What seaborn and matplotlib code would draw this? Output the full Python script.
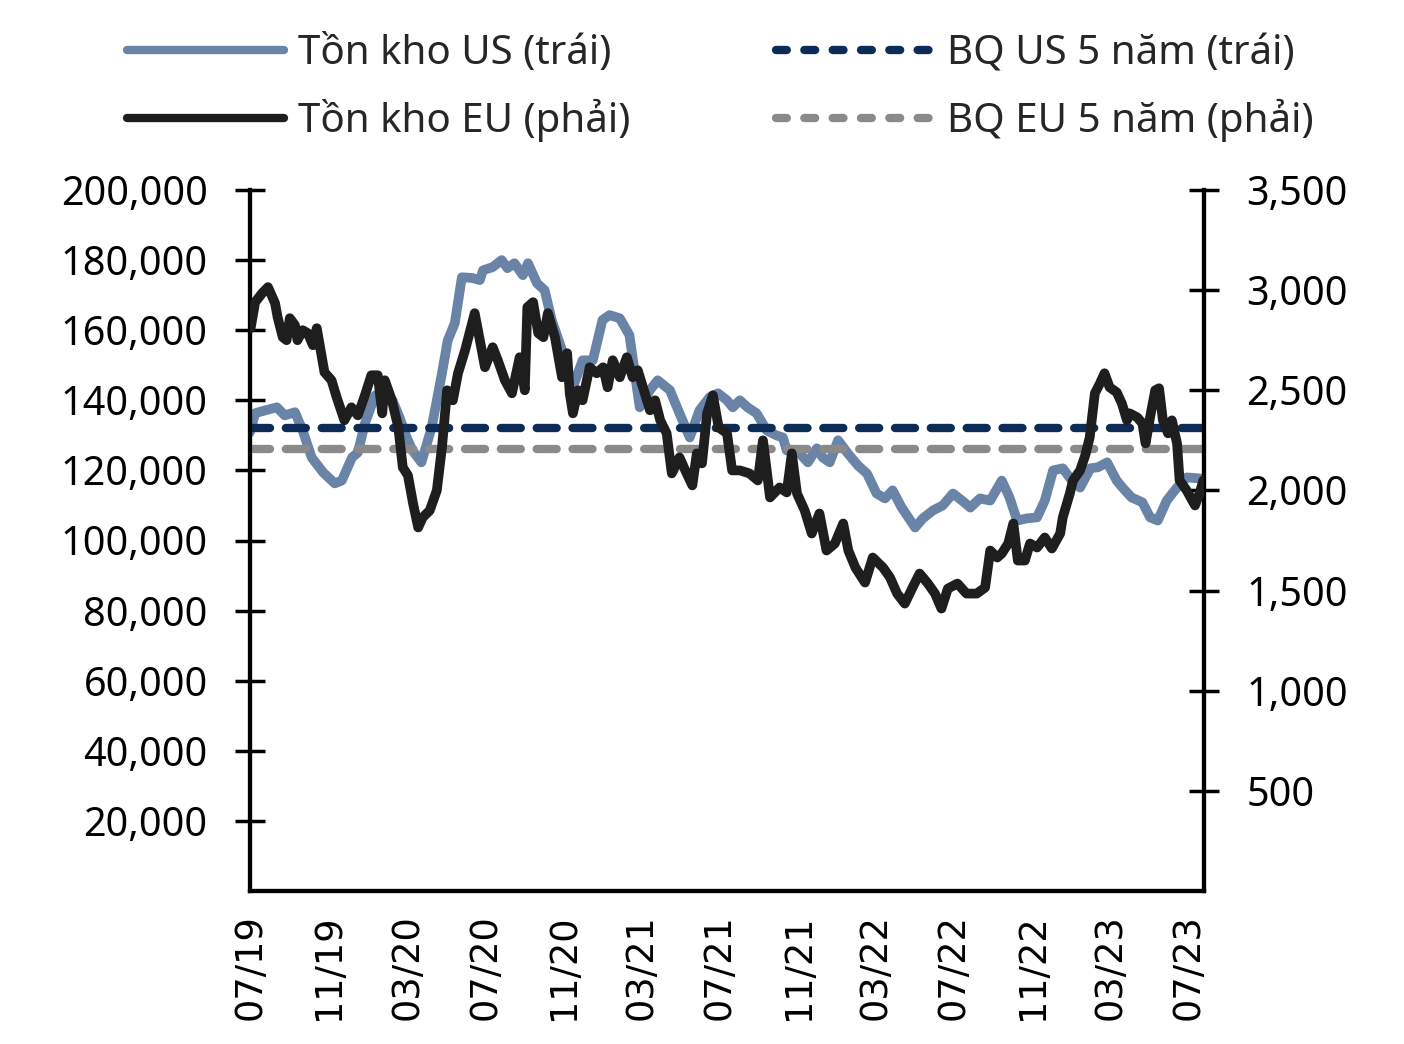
import numpy as np
import pandas as pd
import matplotlib
matplotlib.use("Agg")
import matplotlib.pyplot as plt
import matplotlib.dates as mdates
from matplotlib.ticker import FuncFormatter
from matplotlib.lines import Line2D
import seaborn as sns

# US inventory (left axis)
us_dates = ['2019-07-01', '2019-07-09', '2019-07-24', '2019-08-12', '2019-08-24', '2019-09-09',
            '2019-09-21', '2019-10-05', '2019-10-23', '2019-11-10', '2019-11-21', '2019-12-07',
            '2019-12-16', '2019-12-27', '2020-01-12', '2020-01-30', '2020-02-08', '2020-02-19',
            '2020-03-01', '2020-03-10', '2020-03-24', '2020-04-09', '2020-04-25', '2020-05-04',
            '2020-05-15', '2020-05-26', '2020-06-11', '2020-06-23', '2020-06-28', '2020-07-13',
            '2020-07-27', '2020-08-05', '2020-08-16', '2020-08-29', '2020-09-06', '2020-09-20',
            '2020-10-02', '2020-10-13', '2020-10-29', '2020-11-15', '2020-11-30', '2020-12-16',
            '2020-12-31', '2021-01-11', '2021-01-27', '2021-02-11', '2021-02-27', '2021-03-15',
            '2021-03-27', '2021-04-15', '2021-04-30', '2021-05-16', '2021-05-31', '2021-06-16',
            '2021-06-29', '2021-07-13', '2021-07-22', '2021-08-02', '2021-08-14', '2021-08-28',
            '2021-09-13', '2021-09-28', '2021-10-08', '2021-10-14', '2021-11-03', '2021-11-16',
            '2021-11-30', '2021-12-09', '2021-12-20', '2022-01-02', '2022-01-17', '2022-02-02',
            '2022-02-16', '2022-03-03', '2022-03-16', '2022-03-28', '2022-04-11', '2022-05-02',
            '2022-05-14', '2022-05-30', '2022-06-14', '2022-06-30', '2022-07-14', '2022-07-27',
            '2022-08-11', '2022-08-27', '2022-09-14', '2022-09-26', '2022-10-08', '2022-10-23',
            '2022-11-08', '2022-11-20', '2022-12-03', '2022-12-18', '2023-01-01', '2023-01-14',
            '2023-01-30', '2023-02-11', '2023-02-25', '2023-03-12', '2023-03-21', '2023-04-04',
            '2023-04-21', '2023-05-03', '2023-05-15', '2023-05-29', '2023-06-13', '2023-06-29',
            '2023-07-20', '2023-07-25']
us_values = [130900, 136300, 137100, 138000, 135700, 136600, 131400, 123700, 119400, 116300,
             117100, 123700, 125100, 133400, 141400, 140900, 140000, 135100, 129400, 125700,
             122300, 132300, 147700, 157100, 162000, 175100, 174900, 174300, 177100, 178000,
             180000, 177700, 179100, 175700, 179100, 173400, 171400, 162900, 154300, 143700,
             151400, 151400, 162900, 164300, 163400, 158600, 138000, 142900, 145700, 142900,
             136300, 129400, 137100, 140900, 142000, 140000, 138000, 140000, 138000, 136300,
             131400, 130000, 129400, 125700, 124900, 122300, 126300, 123700, 122300, 128600,
             124900, 121400, 119100, 113400, 112000, 114300, 109400, 103700, 106300, 108600,
             110000, 113400, 111400, 109400, 112000, 111400, 117100, 112300, 105700, 106300,
             106600, 111400, 120000, 120600, 117100, 115100, 120600, 120900, 122300, 117100,
             115100, 112300, 110900, 106600, 105700, 111400, 114900, 118000, 117700, 116600]

# EU inventory (right axis)
eu_dates = ['2019-07-02', '2019-07-09', '2019-07-20', '2019-07-29', '2019-08-09', '2019-08-13',
            '2019-08-21', '2019-08-27', '2019-09-01', '2019-09-09', '2019-09-13', '2019-09-21',
            '2019-09-29', '2019-10-07', '2019-10-13', '2019-10-21', '2019-10-25', '2019-11-05',
            '2019-11-13', '2019-11-25', '2019-12-06', '2019-12-16', '2019-12-26', '2020-01-06',
            '2020-01-16', '2020-01-23', '2020-01-27', '2020-02-07', '2020-02-17', '2020-02-24',
            '2020-03-03', '2020-03-11', '2020-03-19', '2020-03-26', '2020-04-06', '2020-04-17',
            '2020-04-25', '2020-05-03', '2020-05-12', '2020-05-20', '2020-05-31', '2020-06-11',
            '2020-06-15', '2020-06-23', '2020-07-01', '2020-07-13', '2020-07-21', '2020-08-01',
            '2020-08-12', '2020-08-24', '2020-09-01', '2020-09-05', '2020-09-14', '2020-09-22',
            '2020-09-30', '2020-10-07', '2020-10-18', '2020-10-29', '2020-11-06', '2020-11-10',
            '2020-11-15', '2020-11-23', '2020-11-30', '2020-12-11', '2020-12-22', '2021-01-01',
            '2021-01-08', '2021-01-16', '2021-01-27', '2021-02-07', '2021-02-16', '2021-02-24',
            '2021-03-07', '2021-03-15', '2021-03-23', '2021-03-31', '2021-04-10', '2021-04-18',
            '2021-04-30', '2021-05-09', '2021-05-20', '2021-05-27', '2021-06-04', '2021-06-12',
            '2021-06-21', '2021-06-30', '2021-07-13', '2021-07-21', '2021-08-02', '2021-08-17',
            '2021-08-30', '2021-09-07', '2021-09-18', '2021-10-03', '2021-10-14', '2021-10-22',
            '2021-10-30', '2021-11-11', '2021-11-22', '2021-12-04', '2021-12-15', '2021-12-28',
            '2022-01-10', '2022-01-18', '2022-01-29', '2022-02-13', '2022-02-25', '2022-03-13',
            '2022-03-24', '2022-04-04', '2022-04-16', '2022-04-28', '2022-05-09', '2022-05-22',
            '2022-06-02', '2022-06-12', '2022-06-22', '2022-07-07', '2022-07-21', '2022-08-06',
            '2022-08-19', '2022-08-27', '2022-09-07', '2022-09-14', '2022-09-24', '2022-10-02',
            '2022-10-09', '2022-10-20', '2022-10-28', '2022-11-08', '2022-11-20', '2022-12-01',
            '2022-12-14', '2022-12-18', '2022-12-29', '2023-01-03', '2023-01-14', '2023-01-22',
            '2023-01-29', '2023-02-06', '2023-02-14', '2023-02-21', '2023-03-01', '2023-03-12',
            '2023-03-20', '2023-03-28', '2023-04-01', '2023-04-13', '2023-04-21', '2023-04-26',
            '2023-05-03', '2023-05-11', '2023-05-17', '2023-05-23', '2023-05-31', '2023-06-06',
            '2023-06-14', '2023-06-18', '2023-06-29', '2023-07-12', '2023-07-19', '2023-07-25']
eu_values = [2810, 2940, 2985, 3015, 2935, 2865, 2765, 2750, 2860, 2825, 2750, 2800, 2785, 2725,
             2810, 2665, 2590, 2550, 2465, 2350, 2415, 2375, 2465, 2575, 2575, 2385, 2550, 2450,
             2315, 2115, 2075, 1935, 1815, 1865, 1900, 2000, 2215, 2500, 2450, 2585, 2700, 2835,
             2885, 2750, 2615, 2715, 2650, 2550, 2485, 2665, 2500, 2915, 2940, 2785, 2765, 2885,
             2765, 2565, 2685, 2485, 2385, 2500, 2450, 2615, 2585, 2615, 2515, 2650, 2565, 2665,
             2565, 2600, 2485, 2400, 2450, 2350, 2285, 2085, 2165, 2100, 2025, 2185, 2135, 2385,
             2475, 2315, 2285, 2100, 2100, 2085, 2050, 2250, 1965, 2015, 1990, 2185, 1985, 1900,
             1785, 1885, 1700, 1735, 1835, 1700, 1615, 1540, 1665, 1615, 1565, 1485, 1435, 1515,
             1585, 1535, 1485, 1410, 1510, 1535, 1485, 1485, 1515, 1700, 1665, 1685, 1735, 1835,
             1650, 1650, 1735, 1715, 1765, 1710, 1785, 1865, 1985, 2050, 2100, 2175, 2265, 2485,
             2535, 2585, 2515, 2490, 2435, 2350, 2385, 2365, 2335, 2235, 2365, 2500, 2510, 2350,
             2285, 2350, 2235, 2050, 2000, 1925, 1985, 2050]

us_avg = 132000   # BQ US 5 năm
eu_avg = 2205     # BQ EU 5 năm

labels = ['Tồn kho US (trái)', 'Tồn kho EU (phải)', 'BQ US 5 năm (trái)', 'BQ EU 5 năm (phải)']
c_us, c_eu, c_us_avg, c_eu_avg = '#6A84A8', '#1E1E1E', '#0C2C57', '#8A8A8A'

sns.set_style("white")
plt.rcParams['font.family'] = ['Noto Sans', 'DejaVu Sans']

lw = 6.0       # legend / dashed
lw_data = 7.0  # series lines
plt.rcParams['lines.linewidth'] = lw_data

fig = plt.figure(figsize=(14.04, 10.44), dpi=100)
ax = fig.add_axes([250 / 1404, 1 - 891 / 1044, (1204 - 250) / 1404, (891 - 190) / 1044])
ax2 = ax.twinx()

sns.lineplot(x=pd.to_datetime(us_dates), y=us_values, ax=ax, color=c_us, linewidth=lw_data,
             solid_joinstyle='round', zorder=2)
ax.axhline(us_avg, color=c_us_avg, linewidth=lw, dashes=(2.4, 1.9), dash_capstyle='round', zorder=3)
sns.lineplot(x=pd.to_datetime(eu_dates), y=eu_values, ax=ax2, color=c_eu, linewidth=lw_data,
             solid_joinstyle='round', zorder=3)
ax2.axhline(eu_avg, color=c_eu_avg, linewidth=lw, dashes=(2.4, 1.9), dash_capstyle='round', zorder=2)

ax.set_xlim(pd.Timestamp('2019-07-01'), pd.Timestamp('2023-07-26'))
ax.set_ylim(0, 200000)
ax2.set_ylim(0, 3500)
ax.set_yticks(np.arange(20000, 200001, 20000))
ax2.set_yticks(np.arange(500, 3501, 500))
fmt = FuncFormatter(lambda v, p: f'{v:,.0f}')
ax.yaxis.set_major_formatter(fmt)
ax2.yaxis.set_major_formatter(fmt)

ax.xaxis.set_major_locator(mdates.MonthLocator(bymonth=[3, 7, 11]))
ax.xaxis.set_major_formatter(mdates.DateFormatter('%m/%y'))
ax.set_xlabel('')
ax.set_ylabel('')
ax2.set_ylabel('')

for a in (ax, ax2):
    a.grid(False)
    a.spines['top'].set_visible(False)
    for s in ('left', 'right', 'bottom'):
        a.spines[s].set_linewidth(3)
        a.spines[s].set_color('black')

ax.tick_params(axis='y', direction='inout', length=21, width=2.5, labelsize=28.5, pad=20, colors='black')
ax2.tick_params(axis='y', direction='inout', length=21, width=2.5, labelsize=28.5, pad=20, colors='black')
ax.tick_params(axis='x', direction='in', length=10, width=2.5, pad=17, labelrotation=90, colors='black')
for t in ax.get_xticklabels():
    t.set_fontfamily('DejaVu Sans')
    t.set_fontsize(26.5)

handles = [Line2D([], [], color=c_us, linewidth=lw),
           Line2D([], [], color=c_eu, linewidth=lw),
           Line2D([], [], color=c_us_avg, linewidth=lw, dashes=(1.3, 2.1), dash_capstyle='round'),
           Line2D([], [], color=c_eu_avg, linewidth=lw, dashes=(1.3, 2.1), dash_capstyle='round')]
fig.legend(handles, labels, loc='upper left', bbox_to_anchor=(127 / 1404, 0.967), ncol=2,
           frameon=False, fontsize=29, handlelength=3.9, handletextpad=0.35,
           columnspacing=3.6, labelspacing=0.6, borderpad=0, borderaxespad=0)

fig.savefig('out.png', dpi=100)
